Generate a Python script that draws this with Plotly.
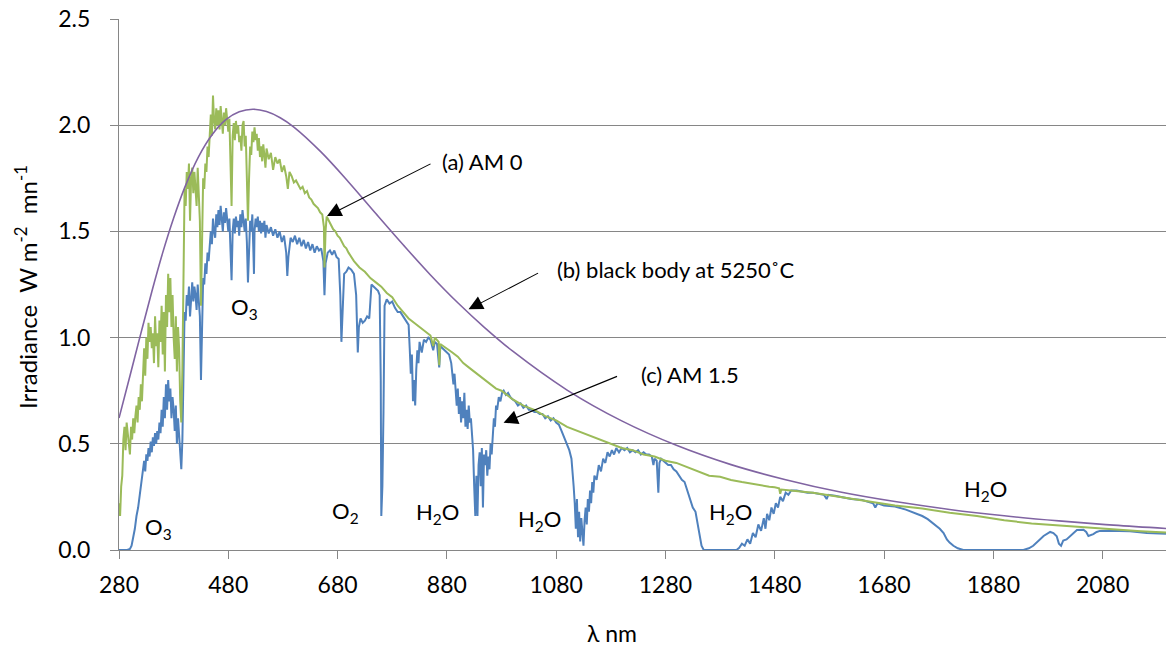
import plotly.graph_objects as go

# ---------------- data ----------------
# (b) black body at 5250 C
bb_nm = [280, 300, 320, 340, 360, 380, 400, 425, 450, 475, 500, 525, 550, 575, 600,
         650, 700, 750, 800, 850, 900, 950, 1000, 1100, 1200, 1300, 1400, 1500, 1600,
         1700, 1800, 1900, 2000, 2100, 2200]
bb_val = [0.621, 0.819, 1.020, 1.216, 1.400, 1.563, 1.705, 1.849, 1.954, 2.025, 2.063,
          2.075, 2.064, 2.035, 1.991, 1.873, 1.733, 1.584, 1.437, 1.295, 1.164, 1.045,
          0.937, 0.753, 0.608, 0.493, 0.402, 0.331, 0.273, 0.228, 0.191, 0.161, 0.137,
          0.117, 0.1005]

# (a) AM 0
am0_nm = [280, 282, 284, 286, 288, 290, 292, 294, 296, 298, 300, 302, 304, 306, 308, 310,
          312, 314, 316, 318, 320, 322, 324, 326, 328, 330, 332, 334, 336, 338, 340, 342,
          344, 346, 348, 350, 352, 354, 356, 358, 360, 362, 364, 366, 368, 370, 372, 374,
          376, 378, 380, 382, 384, 386, 388, 390, 392, 394, 396, 398, 400, 402, 404, 406,
          408, 410, 412, 414, 416, 418, 420, 422, 424, 426, 428, 430, 432, 434, 436, 438,
          440, 442, 444, 446, 448, 450, 452, 454, 456, 458, 460, 462, 464, 466, 468, 470,
          472, 474, 476, 478, 480, 482, 484, 486, 488, 490, 492, 494, 496, 498, 500, 502,
          504, 506, 508, 510, 512, 514, 516, 518, 520, 522, 524, 526, 528, 530, 532, 534,
          536, 538, 540, 542, 544, 546, 548, 550, 554, 558, 562, 566, 570, 574, 578, 582,
          586, 589, 592, 596, 600, 604, 608, 612, 616, 620, 624, 628, 632, 636, 640, 644,
          648, 652, 655, 656, 658, 660, 664, 668, 672, 676, 680, 684, 688, 692, 696, 700,
          710, 720, 730, 740, 750, 760, 770, 780, 790, 800, 810, 820, 830, 840, 850, 855,
          858, 865, 866, 868, 880, 890, 900, 910, 920, 930, 940, 950, 960, 970, 980, 990,
          1000, 1020, 1040, 1060, 1080, 1100, 1120, 1140, 1160, 1180, 1200, 1220, 1240,
          1260, 1270, 1280, 1300, 1320, 1340, 1360, 1380, 1400, 1420, 1440, 1460, 1470,
          1480, 1488, 1490, 1492, 1500, 1550, 1600, 1650, 1700, 1750, 1800, 1850, 1900,
          1950, 2000, 2050, 2100, 2150, 2196]
am0_val = [0.22, 0.16, 0.30, 0.35, 0.52, 0.58, 0.47, 0.60, 0.55, 0.50, 0.45, 0.58, 0.52,
           0.62, 0.55, 0.63, 0.68, 0.60, 0.72, 0.66, 0.78, 0.70, 0.85, 0.95, 0.82, 1.00,
           0.90, 1.07, 0.98, 1.05, 0.95, 1.02, 0.88, 1.10, 0.96, 1.02, 0.86, 1.08, 0.98,
           1.15, 0.92, 1.12, 0.84, 1.20, 1.05, 1.30, 1.12, 1.28, 1.05, 1.20, 1.00, 0.90,
           1.10, 0.84, 1.05, 0.95, 0.70, 0.60, 0.85, 1.30, 1.70, 1.62, 1.78, 1.70, 1.82,
           1.55, 1.75, 1.80, 1.68, 1.78, 1.72, 1.62, 1.80, 1.70, 1.55, 1.15, 1.50, 1.75,
           1.70, 1.82, 1.78, 1.90, 1.85, 1.98, 2.05, 1.95, 2.14, 2.02, 1.98, 2.08, 2.00,
           2.07, 1.98, 2.09, 2.03, 1.96, 2.06, 2.00, 2.08, 2.01, 1.97, 2.03, 1.80, 1.62,
           1.95, 2.01, 1.93, 2.02, 1.96, 2.00, 1.92, 1.95, 1.88, 2.00, 2.02, 1.90, 1.95,
           1.80, 1.55, 1.75, 1.90, 1.86, 1.97, 1.92, 1.99, 1.93, 1.96, 1.88, 1.94, 1.85,
           1.90, 1.83, 1.91, 1.86, 1.80, 1.89, 1.84, 1.87, 1.79, 1.85, 1.82, 1.84, 1.78,
           1.81, 1.76, 1.70, 1.78, 1.76, 1.73, 1.74, 1.72, 1.70, 1.71, 1.68, 1.69, 1.66,
           1.65, 1.63, 1.62, 1.61, 1.59, 1.58, 1.52, 1.33, 1.50, 1.57, 1.55, 1.53, 1.51,
           1.50, 1.48, 1.47, 1.45, 1.43, 1.42, 1.40, 1.36, 1.33, 1.31, 1.28, 1.26, 1.24,
           1.21, 1.19, 1.15, 1.12, 1.09, 1.07, 1.05, 1.03, 1.01, 0.96, 1.00, 0.98, 0.87,
           0.97, 0.95, 0.93, 0.91, 0.88, 0.86, 0.84, 0.82, 0.80, 0.78, 0.76, 0.75, 0.73,
           0.71, 0.68, 0.66, 0.63, 0.61, 0.58, 0.56, 0.54, 0.52, 0.50, 0.48, 0.47, 0.45,
           0.44, 0.43, 0.42, 0.41, 0.39, 0.37, 0.35, 0.345, 0.33, 0.32, 0.31, 0.30, 0.298,
           0.295, 0.29, 0.265, 0.285, 0.283, 0.27, 0.25, 0.23, 0.21, 0.195, 0.175, 0.16,
           0.14, 0.125, 0.115, 0.105, 0.095, 0.088, 0.082]

# (c) AM 1.5
am15_nm = [280, 295, 300, 303, 306, 309, 312, 315, 318, 320, 322, 324, 326, 328, 330, 332,
           334, 336, 338, 340, 342, 344, 346, 348, 350, 352, 354, 356, 358, 360, 362, 364,
           366, 368, 370, 372, 374, 376, 378, 380, 382, 384, 386, 388, 390, 392, 394, 396,
           398, 400, 402, 404, 406, 408, 410, 412, 414, 416, 418, 420, 422, 424, 426, 428,
           430, 432, 434, 436, 438, 440, 442, 444, 446, 448, 450, 452, 454, 456, 458, 460,
           462, 464, 466, 468, 470, 472, 474, 476, 478, 480, 482, 484, 486, 488, 490, 492,
           494, 496, 498, 500, 502, 504, 506, 508, 510, 512, 514, 516, 518, 520, 522, 524,
           526, 527, 528, 530, 532, 534, 536, 538, 540, 542, 544, 546, 548, 550, 554, 558,
           562, 566, 570, 574, 578, 582, 586, 588, 590, 594, 598, 602, 606, 610, 614, 618,
           622, 626, 630, 634, 638, 642, 646, 650, 654, 656, 658, 662, 666, 670, 674, 678,
           682, 685, 687, 689, 692, 696, 700, 705, 710, 714, 717, 719, 722, 726, 730, 734,
           738, 742, 746, 750, 754, 757, 759, 760, 762, 764, 766, 770, 775, 780, 785, 790,
           795, 800, 805, 810, 812, 814, 816, 818, 820, 822, 824, 826, 828, 830, 834, 838,
           842, 846, 850, 855, 858, 862, 866, 868, 872, 876, 880, 884, 888, 890, 892, 894,
           896, 898, 900, 902, 904, 906, 908, 910, 912, 914, 916, 918, 920, 922, 924, 926,
           928, 930, 932, 934, 936, 938, 940, 942, 944, 946, 948, 950, 952, 954, 956, 958,
           960, 962, 964, 966, 968, 970, 972, 975, 978, 981, 984, 988, 992, 996, 1000,
           1005, 1010, 1015, 1020, 1025, 1030, 1035, 1040, 1045, 1050, 1055, 1060, 1065,
           1070, 1075, 1080, 1085, 1090, 1095, 1100, 1104, 1108, 1110, 1112, 1114, 1116,
           1118, 1120, 1122, 1124, 1126, 1128, 1130, 1132, 1134, 1136, 1138, 1140, 1142,
           1144, 1146, 1148, 1150, 1154, 1158, 1162, 1166, 1170, 1174, 1178, 1182, 1186,
           1190, 1195, 1200, 1205, 1210, 1215, 1220, 1225, 1230, 1235, 1240, 1245, 1250,
           1255, 1258, 1260, 1264, 1267, 1269, 1272, 1276, 1280, 1285, 1290, 1295, 1300,
           1305, 1310, 1315, 1320, 1325, 1330, 1335, 1338, 1340, 1343, 1346, 1350, 1400,
           1410, 1415, 1420, 1425, 1430, 1435, 1440, 1445, 1450, 1455, 1460, 1463, 1466,
           1470, 1474, 1478, 1482, 1486, 1490, 1495, 1500, 1505, 1510, 1520, 1530, 1540,
           1550, 1560, 1570, 1575, 1578, 1590, 1600, 1612, 1620, 1640, 1660, 1664, 1668,
           1680, 1700, 1720, 1740, 1750, 1760, 1770, 1776, 1782, 1789, 1795, 1800, 1807,
           1815, 1825, 1935, 1945, 1953, 1962, 1972, 1984, 1990, 1996, 2000, 2004, 2008,
           2014, 2020, 2027, 2033, 2045, 2050, 2054, 2058, 2063, 2069, 2075, 2090, 2100,
           2130, 2161, 2196]
am15_val = [0.0, 0.0, 0.005, 0.02, 0.06, 0.10, 0.16, 0.20, 0.26, 0.30, 0.35, 0.38, 0.42,
            0.37, 0.45, 0.42, 0.48, 0.44, 0.51, 0.46, 0.53, 0.49, 0.55, 0.50, 0.56, 0.52,
            0.60, 0.55, 0.66, 0.58, 0.72, 0.62, 0.78, 0.66, 0.80, 0.70, 0.76, 0.62, 0.72,
            0.66, 0.56, 0.68, 0.50, 0.62, 0.55, 0.45, 0.38, 0.52, 0.80, 1.12, 1.08, 1.20,
            1.15, 1.24, 1.10, 1.21, 1.26, 1.17, 1.24, 1.20, 1.13, 1.25, 1.18, 1.10, 0.80,
            1.05, 1.28, 1.25, 1.35, 1.30, 1.40, 1.36, 1.45, 1.50, 1.44, 1.56, 1.50, 1.47,
            1.58, 1.52, 1.60, 1.53, 1.62, 1.55, 1.50, 1.59, 1.54, 1.61, 1.55, 1.50, 1.56,
            1.40, 1.27, 1.50, 1.56, 1.49, 1.57, 1.52, 1.55, 1.48, 1.58, 1.52, 1.60, 1.55,
            1.50, 1.56, 1.45, 1.26, 1.45, 1.55, 1.50, 1.58, 1.40, 1.30, 1.50, 1.56, 1.52,
            1.57, 1.50, 1.55, 1.49, 1.54, 1.50, 1.55, 1.47, 1.53, 1.49, 1.52, 1.48, 1.51,
            1.47, 1.50, 1.45, 1.48, 1.40, 1.29, 1.38, 1.47, 1.45, 1.48, 1.44, 1.47, 1.43,
            1.46, 1.42, 1.45, 1.41, 1.44, 1.40, 1.43, 1.41, 1.42, 1.36, 1.20, 1.35, 1.40,
            1.41, 1.39, 1.41, 1.38, 1.37, 1.20, 0.98, 1.15, 1.30, 1.31, 1.33, 1.32, 1.30,
            1.20, 0.93, 1.05, 1.09, 1.07, 1.08, 1.10, 1.09, 1.25, 1.24, 1.23, 1.22, 1.20,
            0.80, 0.16, 0.30, 0.65, 1.15, 1.18, 1.16, 1.17, 1.14, 1.12, 1.12, 1.10, 1.08,
            1.06, 0.95, 0.83, 0.92, 0.70, 0.80, 0.68, 0.85, 0.94, 0.88, 0.98, 0.93, 0.99,
            0.98, 1.00, 0.99, 0.94, 0.98, 0.97, 0.86, 0.96, 0.95, 0.94, 0.93, 0.92, 0.88,
            0.84, 0.78, 0.83, 0.72, 0.68, 0.76, 0.64, 0.72, 0.60, 0.70, 0.62, 0.74, 0.58,
            0.66, 0.57, 0.68, 0.60, 0.62, 0.52, 0.47, 0.30, 0.16, 0.35, 0.16, 0.40, 0.46,
            0.30, 0.48, 0.20, 0.45, 0.40, 0.47, 0.35, 0.44, 0.38, 0.50, 0.45, 0.55, 0.62,
            0.58, 0.68, 0.66, 0.72, 0.70, 0.74, 0.75, 0.73, 0.74, 0.72, 0.71, 0.70, 0.68,
            0.69, 0.67, 0.68, 0.66, 0.66, 0.65, 0.65, 0.64, 0.64, 0.62, 0.63, 0.61, 0.62,
            0.60, 0.59, 0.56, 0.53, 0.50, 0.47, 0.43, 0.38, 0.30, 0.22, 0.10, 0.24, 0.06,
            0.18, 0.04, 0.15, 0.08, 0.02, 0.14, 0.20, 0.12, 0.24, 0.18, 0.28, 0.22, 0.32,
            0.27, 0.35, 0.33, 0.40, 0.37, 0.43, 0.41, 0.46, 0.44, 0.47, 0.45, 0.48, 0.46,
            0.48, 0.47, 0.48, 0.46, 0.47, 0.46, 0.47, 0.45, 0.46, 0.45, 0.45, 0.44, 0.40,
            0.43, 0.42, 0.27, 0.41, 0.43, 0.42, 0.41, 0.40, 0.40, 0.38, 0.37, 0.35, 0.33,
            0.32, 0.28, 0.25, 0.20, 0.18, 0.14, 0.10, 0.06, 0.02, 0.0, 0.0, 0.0, 0.01, 0.03,
            0.02, 0.05, 0.03, 0.08, 0.06, 0.12, 0.09, 0.15, 0.10, 0.17, 0.14, 0.20, 0.17,
            0.22, 0.20, 0.25, 0.23, 0.27, 0.26, 0.28, 0.28, 0.275, 0.27, 0.27, 0.265, 0.26,
            0.24, 0.26, 0.255, 0.25, 0.245, 0.24, 0.235, 0.22, 0.20, 0.22, 0.21, 0.205,
            0.19, 0.17, 0.16, 0.145, 0.125, 0.11, 0.10, 0.08, 0.05, 0.035, 0.02, 0.008,
            0.0, 0.0, 0.008, 0.02, 0.04, 0.066, 0.085, 0.08, 0.065, 0.03, 0.02, 0.045, 0.05,
            0.065, 0.08, 0.094, 0.095, 0.085, 0.066, 0.07, 0.075, 0.085, 0.09, 0.091, 0.09,
            0.088, 0.08, 0.077]

x_ticks = [280, 480, 680, 880, 1080, 1280, 1480, 1680, 1880, 2080]
y_ticks = [0.0, 0.5, 1.0, 1.5, 2.0, 2.5]

# ---------------- figure ----------------
W, H = 1166, 648
L, R, T, B = 119, 0, 19, 98
PW, PH = W - L - R, H - T - B
FONT = "Lato"
GRID = "#868686"


def px(x):
    return (x - L) / PW


def py(y):
    return (H - B - y) / PH


fig = go.Figure()
fig.add_trace(go.Scatter(x=am15_nm, y=am15_val, mode="lines", name="(c) AM 1.5",
                         line=dict(color="#4F81BD", width=2)))
fig.add_trace(go.Scatter(x=am0_nm, y=am0_val, mode="lines", name="(a) AM 0",
                         line=dict(color="#9BBB59", width=2)))
fig.add_trace(go.Scatter(x=bb_nm, y=bb_val, mode="lines", name="(b) black body",
                         line=dict(color="#8064A2", width=1.6, shape="spline")))

annotations = []
# axis titles
annotations.append(dict(x=px(612), y=py(633), xref="paper", yref="paper",
                        xanchor="center", yanchor="middle",
                        text="λ nm", showarrow=False, font=dict(size=23)))
annotations.append(dict(x=px(26), y=py(287), xref="paper", yref="paper",
                        xanchor="center", yanchor="middle",
                        text="Irradiance  W m<sup>-2</sup>  mn<sup>-1</sup>",
                        textangle=-90, showarrow=False, font=dict(size=24)))

# species labels (pixel centres)
labels = [("O<sub>3</sub>", 244, 308), ("O<sub>3</sub>", 158, 528),
          ("O<sub>2</sub>", 345, 512), ("H<sub>2</sub>O", 437, 513),
          ("H<sub>2</sub>O", 539, 520), ("H<sub>2</sub>O", 730, 513),
          ("H<sub>2</sub>O", 985, 490)]
for t, lx, ly in labels:
    annotations.append(dict(x=px(lx), y=py(ly), xref="paper", yref="paper", text=t,
                            xanchor="center", yanchor="middle",
                            showarrow=False, font=dict(size=22)))

# callout texts (left-anchored)
callouts = [("(a) AM 0", 440, 161), ("(b) black body at 5250˚C", 555, 269),
            ("(c) AM 1.5", 639, 374)]
for t, lx, ly in callouts:
    annotations.append(dict(x=px(lx), y=py(ly), xref="paper", yref="paper", text=t,
                            xanchor="left", yanchor="middle",
                            showarrow=False, font=dict(size=22)))

# arrows: head in data coords, tail as pixel offset
arrows = [(660.7, 1.572, 105, -53), (919.7, 1.133, 71, -37), (983.7, 0.599, 115, -47)]
for hx, hy, ax, ay in arrows:
    annotations.append(dict(x=hx, y=hy, xref="x", yref="y", text="", showarrow=True,
                            ax=ax, ay=ay, arrowhead=2, arrowsize=2.6, arrowwidth=1.1,
                            arrowcolor="black", standoff=0))

fig.update_layout(
    width=W, height=H,
    margin=dict(l=L, r=R, t=T, b=B, pad=0),
    paper_bgcolor="white", plot_bgcolor="white",
    showlegend=False,
    font=dict(family=FONT, size=22, color="black"),
    annotations=annotations,
    xaxis=dict(range=[280, 2196], tickvals=x_ticks, ticktext=[str(v) for v in x_ticks],
               showgrid=False, zeroline=False, showline=True, linecolor=GRID, linewidth=1,
               ticks="outside", ticklen=8, tickcolor=GRID, tickwidth=1, automargin=False,
               ticklabelstandoff=6, tickfont=dict(size=23)),
    yaxis=dict(range=[0, 2.5], tickvals=y_ticks, ticktext=[f"{v:.1f}" for v in y_ticks],
               showgrid=True, gridcolor=GRID, gridwidth=1, zeroline=False,
               showline=True, linecolor=GRID, linewidth=1, automargin=False,
               ticks="outside", ticklen=8, tickcolor=GRID, tickwidth=1,
               ticklabelstandoff=15, tickfont=dict(size=23)),
)

fig.write_html("out.html",
               config={"displayModeBar": False},
               post_script="document.body.style.margin='0px';"
                           "document.body.style.overflow='hidden';")
